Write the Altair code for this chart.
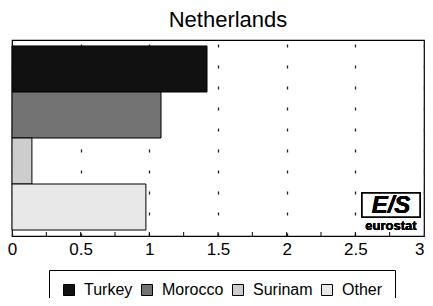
import altair as alt
import pandas as pd

countries = ["Turkey", "Morocco", "Surinam", "Other"]
values = [1.42, 1.085, 0.145, 0.975]
colors = ["#111111", "#737373", "#cdcdcd", "#e8e8e8"]
tick_values = [0.25, 0.5, 0.75, 1.0, 1.25, 1.5, 1.75, 2.0, 2.25, 2.5, 2.75]
axis_values = [0, 0.5, 1, 1.5, 2, 2.5, 3]

W, H = 412, 196

df = pd.DataFrame({"country": countries, "value": values})
ticks = pd.DataFrame({"t": tick_values})

xscale = alt.Scale(domain=[0, 3], nice=False, zero=True)

bars = alt.Chart(df).mark_bar(stroke="black", strokeWidth=1).encode(
    x=alt.X("value:Q", scale=xscale,
            axis=alt.Axis(values=axis_values, title=None, labelFontSize=17,
                          labelColor="black", labelFont="Liberation Sans",
                          format="~g",
                          labelAlign=alt.condition("datum.value == 3",
                                                   alt.value("right"), alt.value("center")),
                          ticks=False, domain=False, labelPadding=5,
                          grid=True, gridColor="#222222", gridDash=[3, 18],
                          gridWidth=1.3, labelFlush=False)),
    y=alt.Y("country:N", sort=countries, title=None,
            scale=alt.Scale(paddingInner=0, paddingOuter=0.13),
            axis=None),
    color=alt.Color("country:N", sort=countries,
                    scale=alt.Scale(domain=countries, range=colors),
                    legend=alt.Legend(title=None, orient="none", direction="horizontal",
                                      legendX=37, legendY=230,
                                      symbolType="square", symbolSize=121,
                                      symbolStrokeColor="black", symbolStrokeWidth=1,
                                      labelFontSize=16, labelFont="Liberation Sans",
                                      labelColor="black", strokeColor="black",
                                      padding=12, columnPadding=6,
                                      labelOffset=7)),
)

minor = alt.Chart(ticks).mark_rule(color="black", strokeWidth=1).encode(
    x=alt.X("t:Q", scale=xscale),
    y=alt.value(H - 4),
    y2=alt.value(H),
)

logo_box = alt.Chart(df).mark_rect(fill="white", stroke="black", strokeWidth=1.5).encode(
    x=alt.value(W - 62), x2=alt.value(W - 4),
    y=alt.value(H - 43), y2=alt.value(H - 19),
)
logo_es = alt.Chart(df).mark_text(text="E/S", fontSize=24, fontWeight="bold",
                                  fontStyle="italic", font="Liberation Sans",
                                  color="black", align="center", baseline="middle").encode(
    x=alt.value(W - 33), y=alt.value(H - 30),
)
logo_txt = alt.Chart(df).mark_text(text="eurostat", fontSize=13, fontWeight="bold",
                                   font="Liberation Sans", color="black",
                                   align="center", baseline="bottom").encode(
    x=alt.value(W - 33), y=alt.value(H - 3),
)

chart = alt.layer(bars, minor, logo_box, logo_es, logo_txt).properties(
    width=W, height=H,
    autosize=alt.AutoSizeParams(type="none"),
    padding={"left": 4, "right": 1, "top": 32, "bottom": 62},
    title=alt.TitleParams("Netherlands", fontSize=22, font="Liberation Sans",
                          fontWeight="normal", color="black", anchor="middle",
                          offset=8, dx=10),
).configure_view(stroke="black", strokeWidth=1.2)

chart.save("out.html", embed_options={"renderer": "svg", "actions": False})
